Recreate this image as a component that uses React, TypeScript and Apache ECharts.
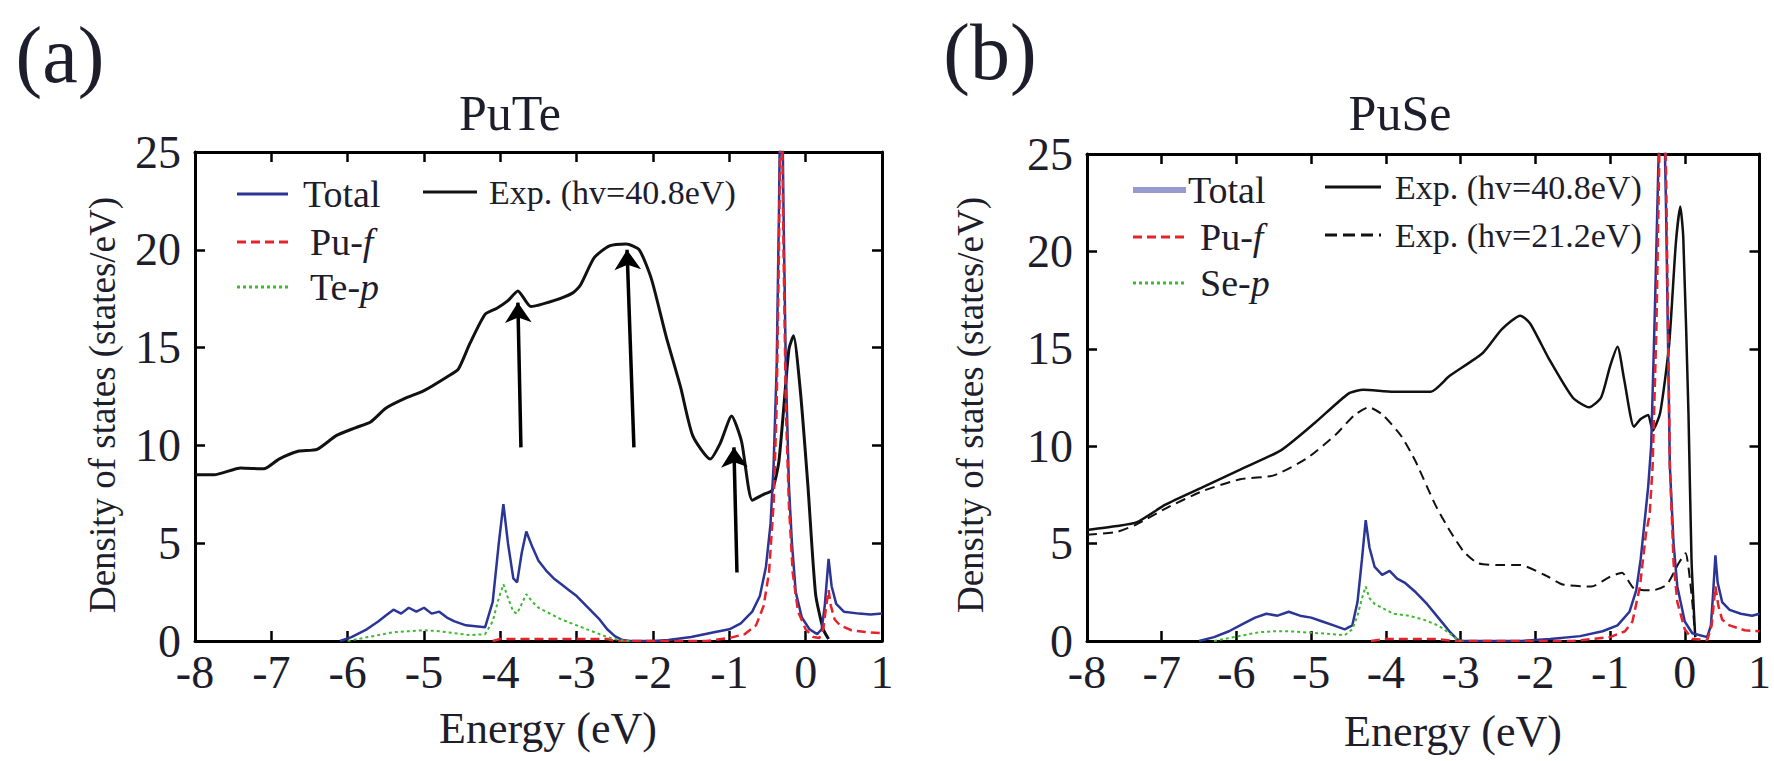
import React, { useEffect, useRef } from "react";
import * as echarts from "echarts";

// ---------- data ----------
const X_MIN = -8;
const X_MAX = 1;
const Y_MIN = 0;
const Y_MAX = 25;

// Panel (a) PuTe
const puteExp: number[][] = [
  [-8, 8.5], [-7.75, 8.5], [-7.4, 8.85], [-7.1, 8.8], [-6.9, 9.3], [-6.65, 9.7], [-6.4, 9.8],
  [-6.15, 10.5], [-5.9, 10.9], [-5.7, 11.2], [-5.5, 11.9], [-5.25, 12.4], [-5.0, 12.8], [-4.7, 13.5],
  [-4.55, 13.9], [-4.4, 15.2], [-4.2, 16.7], [-4.05, 17.0], [-3.9, 17.4], [-3.77, 17.9], [-3.6, 17.1],
  [-3.3, 17.4], [-3.05, 17.8], [-2.95, 18.2], [-2.77, 19.6], [-2.57, 20.2], [-2.35, 20.3], [-2.18, 20.0],
  [-2.02, 18.5], [-1.83, 15.6], [-1.64, 13.0], [-1.48, 10.5], [-1.25, 9.3], [-1.12, 10.1], [-0.97, 11.5],
  [-0.84, 10.2], [-0.7, 7.2], [-0.55, 7.5], [-0.44, 7.7], [-0.35, 9.2], [-0.22, 14.9], [-0.16, 15.6],
  [-0.07, 12.8], [0.03, 7.9], [0.13, 2.4], [0.23, 0.6], [0.3, 0.1],
];
const puteTotal: number[][] = [
  [-6.1, 0], [-5.95, 0.2], [-5.75, 0.6], [-5.6, 1.0], [-5.5, 1.3], [-5.4, 1.6], [-5.3, 1.4], [-5.2, 1.7],
  [-5.1, 1.5], [-5.0, 1.7], [-4.9, 1.4], [-4.8, 1.5], [-4.7, 1.2], [-4.6, 1.0], [-4.45, 0.8], [-4.2, 0.7],
  [-4.1, 2.0], [-4.02, 5.0], [-3.96, 7.0], [-3.9, 5.0], [-3.83, 3.2], [-3.78, 3.0], [-3.72, 4.5],
  [-3.66, 5.6], [-3.58, 4.8], [-3.5, 4.1], [-3.4, 3.6], [-3.3, 3.2], [-3.2, 2.9], [-3.1, 2.6], [-3.0, 2.3],
  [-2.9, 1.9], [-2.8, 1.5], [-2.7, 1.1], [-2.6, 0.6], [-2.5, 0.25], [-2.4, 0.05], [-2.3, 0], [-2.0, 0],
  [-1.8, 0.05], [-1.5, 0.2], [-1.2, 0.45], [-1.0, 0.6], [-0.85, 0.9], [-0.7, 1.5], [-0.6, 2.3],
  [-0.52, 3.8], [-0.46, 6], [-0.42, 9], [-0.38, 14], [-0.35, 22], [-0.32, 32], [-0.29, 22], [-0.26, 14],
  [-0.22, 8], [-0.18, 5], [-0.13, 2.5], [-0.05, 1.2], [0.05, 0.6], [0.15, 0.35], [0.21, 0.6], [0.25, 1.8],
  [0.3, 4.2], [0.34, 2.8], [0.4, 1.9], [0.5, 1.5], [0.7, 1.4], [0.85, 1.35], [1.0, 1.4],
];
const putePuf: number[][] = [
  [-4.1, 0], [-4.0, 0.1], [-2.6, 0.1], [-2.5, 0], [-1.3, 0], [-1.0, 0.15], [-0.8, 0.35], [-0.65, 0.8],
  [-0.55, 1.8], [-0.48, 3.5], [-0.42, 7], [-0.38, 12], [-0.35, 20], [-0.32, 30], [-0.29, 20], [-0.26, 12],
  [-0.22, 7], [-0.17, 3.5], [-0.1, 1.5], [0, 0.6], [0.1, 0.2], [0.18, 0.15], [0.23, 0.6], [0.27, 1.8],
  [0.3, 2.6], [0.33, 1.8], [0.38, 1.1], [0.45, 0.8], [0.6, 0.55], [0.8, 0.45], [1.0, 0.4],
];
const puteTep: number[][] = [
  [-6.0, 0], [-5.8, 0.15], [-5.6, 0.3], [-5.4, 0.45], [-5.2, 0.5], [-5.0, 0.55], [-4.8, 0.5], [-4.6, 0.4],
  [-4.4, 0.3], [-4.2, 0.35], [-4.1, 1.0], [-4.02, 2.2], [-3.96, 2.9], [-3.9, 2.2], [-3.83, 1.5],
  [-3.78, 1.4], [-3.72, 1.9], [-3.66, 2.4], [-3.58, 2.0], [-3.5, 1.7], [-3.35, 1.4], [-3.2, 1.1],
  [-3.0, 0.8], [-2.8, 0.5], [-2.6, 0.2], [-2.45, 0.05], [-2.3, 0],
];
// arrows: [xFrom, yFrom, xTo, yTo]
const puteArrows: number[][] = [
  [-3.73, 9.9, -3.77, 17.3],
  [-2.25, 9.9, -2.34, 20.0],
  [-0.9, 3.5, -0.94, 9.9],
];

// Panel (b) PuSe
const puseExp40: number[][] = [
  [-8, 5.7], [-7.6, 5.9], [-7.33, 6.1], [-6.95, 7.0], [-6.45, 7.9], [-5.95, 8.8], [-5.4, 9.8],
  [-4.95, 11.2], [-4.5, 12.7], [-4.3, 12.9], [-3.9, 12.8], [-3.4, 12.8], [-3.15, 13.6], [-2.7, 14.8],
  [-2.45, 16.0], [-2.2, 16.7], [-2.07, 16.3], [-1.82, 14.5], [-1.5, 12.5], [-1.28, 12.0], [-1.12, 12.5],
  [-1.0, 14.1], [-0.9, 15.1], [-0.81, 13.4], [-0.68, 11.0], [-0.59, 11.4], [-0.49, 11.6], [-0.43, 10.8],
  [-0.33, 11.7], [-0.21, 15.2], [-0.12, 20.4], [-0.06, 22.3], [-0.02, 20.7], [0.05, 11.6], [0.09, 4.2],
  [0.14, 0.2],
];
const puseExp21: number[][] = [
  [-8, 5.45], [-7.6, 5.6], [-7.33, 6.0], [-6.95, 6.8], [-6.45, 7.7], [-5.95, 8.3], [-5.5, 8.5],
  [-5.05, 9.4], [-4.67, 10.6], [-4.42, 11.6], [-4.23, 12.0], [-4.04, 11.6], [-3.79, 10.5], [-3.6, 9.2],
  [-3.34, 7.0], [-3.15, 5.7], [-2.96, 4.6], [-2.77, 4.0], [-2.5, 3.9], [-2.2, 3.9], [-1.88, 3.4],
  [-1.63, 2.9], [-1.25, 2.8], [-1.0, 3.3], [-0.84, 3.5], [-0.68, 2.7], [-0.43, 2.6], [-0.24, 2.9],
  [-0.08, 4.0], [0.01, 4.5], [0.09, 2.4], [0.14, 0.2],
];
const puseTotal: number[][] = [
  [-6.5, 0], [-6.3, 0.2], [-6.1, 0.5], [-5.9, 0.9], [-5.75, 1.2], [-5.6, 1.4], [-5.45, 1.3], [-5.3, 1.5],
  [-5.15, 1.3], [-5.0, 1.2], [-4.85, 1.0], [-4.7, 0.8], [-4.55, 0.6], [-4.45, 0.8], [-4.38, 2.0],
  [-4.32, 4.2], [-4.27, 6.2], [-4.22, 4.8], [-4.15, 3.8], [-4.05, 3.4], [-3.95, 3.6], [-3.85, 3.2],
  [-3.75, 3.0], [-3.6, 2.5], [-3.45, 1.9], [-3.3, 1.2], [-3.15, 0.5], [-3.05, 0.1], [-3.0, 0], [-2.2, 0],
  [-1.8, 0.1], [-1.4, 0.25], [-1.1, 0.5], [-0.9, 0.8], [-0.74, 1.5], [-0.65, 2.6], [-0.59, 4.2],
  [-0.49, 7.9], [-0.45, 10], [-0.4, 17], [-0.35, 25], [-0.3, 32], [-0.25, 22], [-0.2, 9], [-0.15, 5],
  [-0.1, 2.8], [0, 1.0], [0.1, 0.4], [0.3, 0.2], [0.35, 0.8], [0.38, 2.5], [0.41, 4.4], [0.44, 3.0],
  [0.5, 2.0], [0.6, 1.6], [0.75, 1.4], [0.9, 1.3], [1.0, 1.4],
];
const pusePuf: number[][] = [
  [-4.2, 0], [-4.0, 0.1], [-3.3, 0.1], [-3.1, 0], [-1.5, 0], [-1.0, 0.2], [-0.8, 0.5], [-0.7, 1.0],
  [-0.6, 2.8], [-0.52, 5.5], [-0.47, 6.5], [-0.43, 9], [-0.38, 16], [-0.34, 25], [-0.3, 32], [-0.25, 24],
  [-0.2, 9], [-0.15, 4], [-0.1, 2], [0, 0.6], [0.1, 0.1], [0.3, 0.05], [0.36, 0.8], [0.41, 2.8],
  [0.45, 1.8], [0.5, 1.1], [0.6, 0.8], [0.8, 0.55], [1.0, 0.5],
];
const puseSep: number[][] = [
  [-6.3, 0], [-6.1, 0.15], [-5.9, 0.3], [-5.7, 0.45], [-5.5, 0.5], [-5.3, 0.5], [-5.1, 0.45], [-4.9, 0.4],
  [-4.7, 0.35], [-4.55, 0.3], [-4.45, 0.6], [-4.38, 1.3], [-4.32, 2.2], [-4.27, 2.8], [-4.22, 2.2],
  [-4.15, 1.9], [-4.05, 1.7], [-3.9, 1.4], [-3.7, 1.3], [-3.5, 1.1], [-3.3, 0.8], [-3.15, 0.4],
  [-3.05, 0.1], [-3.0, 0],
];

// ---------- styling ----------
const FONT = "'Liberation Serif', 'Times New Roman', serif";
const TXT = "#1d1d2b";
const BLUE = "#2a3596";
const RED = "#e5232b";
const GREEN = "#3dba2e";
const BLACK = "#111111";
const TICK_FONT = 46;

function xAxes(gridIndex: number) {
  const base = {
    type: "value" as const,
    gridIndex,
    min: X_MIN,
    max: X_MAX,
    interval: 1,
    splitLine: { show: false },
    axisLine: { show: true, onZero: false, lineStyle: { color: "#000", width: 3 } },
    axisTick: { show: true, inside: true, length: 10, lineStyle: { color: "#000", width: 2.5 } },
  };
  return [
    {
      ...base,
      position: "bottom",
      axisLabel: { show: true, fontFamily: FONT, fontSize: TICK_FONT, color: TXT, margin: 8 },
    },
    { ...base, position: "top", axisLabel: { show: false } },
  ];
}
function yAxes(gridIndex: number) {
  const base = {
    type: "value" as const,
    gridIndex,
    min: Y_MIN,
    max: Y_MAX,
    interval: 5,
    splitLine: { show: false },
    axisLine: { show: true, onZero: false, lineStyle: { color: "#000", width: 3 } },
    axisTick: { show: true, inside: true, length: 10, lineStyle: { color: "#000", width: 2.5 } },
  };
  return [
    {
      ...base,
      position: "left",
      axisLabel: { show: true, fontFamily: FONT, fontSize: TICK_FONT, color: TXT, margin: 14 },
    },
    { ...base, position: "right", axisLabel: { show: false } },
  ];
}

function line(data: number[][], xi: number, yi: number, color: string, width: number, type: any, z: number, smooth = 0) {
  return {
    type: "line",
    xAxisIndex: xi,
    yAxisIndex: yi,
    data,
    showSymbol: false,
    symbol: "none",
    clip: true,
    smooth,
    z,
    lineStyle: { color, width, type },
  };
}

function legendItem(x1: number, x2: number, y: number, stroke: string, width: number, dash: any, text: string, tx: number, size: number) {
  return [
    {
      type: "line",
      shape: { x1, y1: y, x2, y2: y },
      style: { stroke, lineWidth: width, lineDash: dash },
      z: 100,
    },
    {
      type: "text",
      x: tx,
      y,
      style: {
        text,
        fontFamily: FONT,
        fontSize: size,
        fill: TXT,
        align: "left",
        verticalAlign: "middle",
        rich: { i: { fontStyle: "italic", fontFamily: FONT, fontSize: size, fill: TXT } },
      },
      z: 100,
    },
  ];
}

function textEl(text: string, x: number, y: number, size: number, rotation = 0) {
  return {
    type: "text",
    x,
    y,
    rotation,
    style: { text, fontFamily: FONT, fontSize: size, fill: TXT, align: "center", verticalAlign: "middle" },
    z: 100,
  };
}

export default function App() {
  const ref = useRef<HTMLDivElement>(null);
  useEffect(() => {
    const chart = echarts.init(ref.current!, null, { renderer: "svg" });
    const option: any = {
      animation: false,
      backgroundColor: "#ffffff",
      grid: [
        { left: 195, top: 152, width: 687, height: 489 },
        { left: 1087, top: 154, width: 684, height: 487 },
      ],
      xAxis: [...xAxes(0), ...xAxes(1)],
      yAxis: [...yAxes(0), ...yAxes(1)],
      series: [
        line(puteExp, 0, 0, BLACK, 3, "solid", 2, 0.2),
        line(puteTotal, 0, 0, BLUE, 2.5, "solid", 3),
        line(putePuf, 0, 0, RED, 2.5, [9, 5], 4),
        line(puteTep, 0, 0, GREEN, 2, [3, 3], 5),
        {
          type: "lines",
          coordinateSystem: "cartesian2d",
          xAxisIndex: 0,
          yAxisIndex: 0,
          z: 6,
          symbol: ["none", "arrow"],
          symbolSize: 20,
          lineStyle: { color: "#000", width: 3.5, opacity: 1 },
          data: puteArrows.map((a) => ({ coords: [[a[0], a[1]], [a[2], a[3]]] })),
        },
        line(puseExp40, 2, 2, BLACK, 2.5, "solid", 2, 0.2),
        line(puseExp21, 2, 2, BLACK, 2, [10, 6], 2, 0.2),
        line(puseTotal, 2, 2, BLUE, 2.5, "solid", 3),
        line(pusePuf, 2, 2, RED, 2.5, [9, 5], 4),
        line(puseSep, 2, 2, GREEN, 2, [3, 3], 5),
      ],
      graphic: [
        textEl("(a)", 60, 55, 80),
        textEl("(b)", 990, 52, 80),
        textEl("PuTe", 510, 113, 50),
        textEl("PuSe", 1400, 113, 50),
        textEl("Density of states (states/eV)", 102, 405, 37, Math.PI / 2),
        textEl("Density of states (states/eV)", 970, 405, 37, Math.PI / 2),
        textEl("Energy (eV)", 548, 728, 44),
        textEl("Energy (eV)", 1453, 731, 44),
        ...legendItem(237, 288, 194, BLUE, 3, null, "Total", 303, 38),
        ...legendItem(237, 288, 242, RED, 3, [9, 5], "Pu-{i|f}", 310, 38),
        ...legendItem(237, 288, 287, GREEN, 3, [3, 3], "Te-{i|p}", 310, 38),
        ...legendItem(423, 477, 192, BLACK, 3, null, "Exp. (hv=40.8eV)", 489, 34),
        ...legendItem(1133, 1186, 190, "#959bcc", 6, null, "Total", 1188, 38),
        ...legendItem(1133, 1186, 237, RED, 3, [9, 5], "Pu-{i|f}", 1200, 38),
        ...legendItem(1133, 1186, 283, GREEN, 3, [3, 3], "Se-{i|p}", 1200, 38),
        ...legendItem(1325, 1381, 187, BLACK, 3, null, "Exp. (hv=40.8eV)", 1395, 34),
        ...legendItem(1325, 1381, 235, BLACK, 3, [12, 6], "Exp. (hv=21.2eV)", 1395, 34),
      ],
    };
    chart.setOption(option);
    return () => chart.dispose();
  }, []);
  return (
    <div
      ref={ref}
      style={{ position: "fixed", left: 0, top: 0, width: 1774, height: 761, background: "#fff" }}
    />
  );
}
